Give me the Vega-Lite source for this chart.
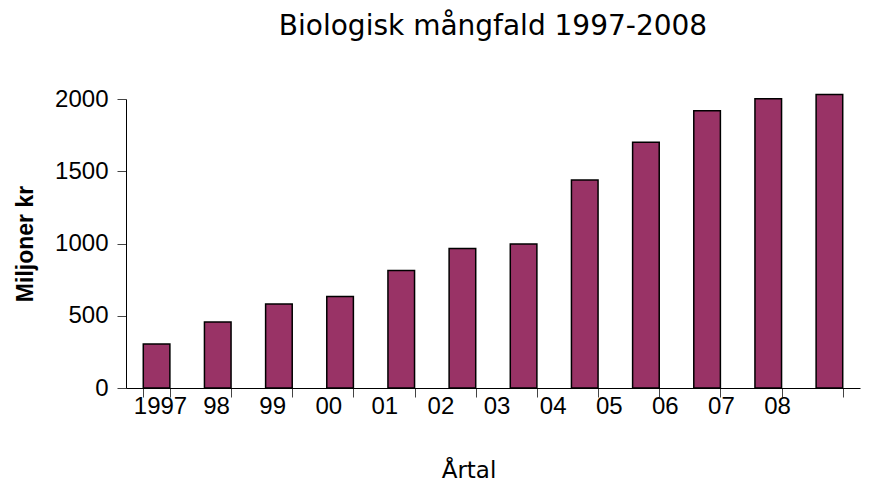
{
  "$schema": "https://vega.github.io/schema/vega-lite/v6.json",
  "width": 734,
  "height": 289,
  "autosize": {"type": "none"},
  "padding": {"left": 126, "top": 99, "right": 25, "bottom": 96},
  "background": "white",
  "config": {"view": {"stroke": null}},
  "title": {
    "text": "Biologisk mångfald 1997-2008",
    "font": "DejaVu Sans",
    "fontSize": 28,
    "fontWeight": "normal",
    "color": "#000000",
    "anchor": "middle",
    "offset": 46
  },
  "data": {
    "values": [
      {"year": "1997", "label": "1997", "value": 304},
      {"year": "1998", "label": "98", "value": 457},
      {"year": "1999", "label": "99", "value": 581},
      {"year": "2000", "label": "00", "value": 634},
      {"year": "2001", "label": "01", "value": 814},
      {"year": "2002", "label": "02", "value": 966},
      {"year": "2003", "label": "03", "value": 996},
      {"year": "2004", "label": "04", "value": 1439},
      {"year": "2005", "label": "05", "value": 1700},
      {"year": "2006", "label": "06", "value": 1919},
      {"year": "2007", "label": "07", "value": 2002},
      {"year": "2008", "label": "08", "value": 2032}
    ]
  },
  "layer": [
    {
      "mark": {"type": "bar", "fill": "#993366", "stroke": "#000000", "strokeWidth": 1.5},
      "encoding": {
        "x": {
          "field": "year",
          "type": "nominal",
          "sort": null,
          "scale": {"paddingInner": 0.565, "paddingOuter": 0.2825},
          "axis": {
            "labels": false,
            "title": null,
            "tickBand": "extent",
            "tickSize": 9,
            "tickColor": "#444444",
            "domainColor": "#000000",
            "domainWidth": 1
          }
        },
        "y": {
          "field": "value",
          "type": "quantitative",
          "scale": {"domain": [0, 2000], "nice": false},
          "axis": {
            "values": [0, 500, 1000, 1500, 2000],
            "format": "d",
            "grid": false,
            "tickSize": 9,
            "tickColor": "#444444",
            "domainColor": "#000000",
            "labelFont": "Liberation Sans",
            "labelFontSize": 24,
            "labelColor": "#000000",
            "labelPadding": 9,
            "title": "Miljoner kr",
            "titleFont": "Liberation Sans",
            "titleFontSize": 23,
            "titleFontWeight": "bold",
            "titleColor": "#000000",
            "titlePadding": 17
          }
        }
      }
    },
    {
      "mark": {"type": "point", "opacity": 0},
      "encoding": {
        "x": {
          "field": "label",
          "type": "ordinal",
          "sort": null,
          "scale": {"type": "point", "range": [34, 651], "padding": 0},
          "axis": {
            "orient": "bottom",
            "domain": false,
            "ticks": false,
            "labelAngle": 0,
            "labelFont": "Liberation Sans",
            "labelFontSize": 24,
            "labelColor": "#000000",
            "labelPadding": 6,
            "labelOverlap": false,
            "title": "Årtal",
            "titleFont": "DejaVu Sans",
            "titleFontSize": 23,
            "titleFontWeight": "normal",
            "titleColor": "#000000",
            "titlePadding": 41
          }
        },
        "y": {"datum": 0, "type": "quantitative"}
      }
    }
  ],
  "resolve": {"scale": {"x": "independent"}, "axis": {"x": "independent"}}
}
